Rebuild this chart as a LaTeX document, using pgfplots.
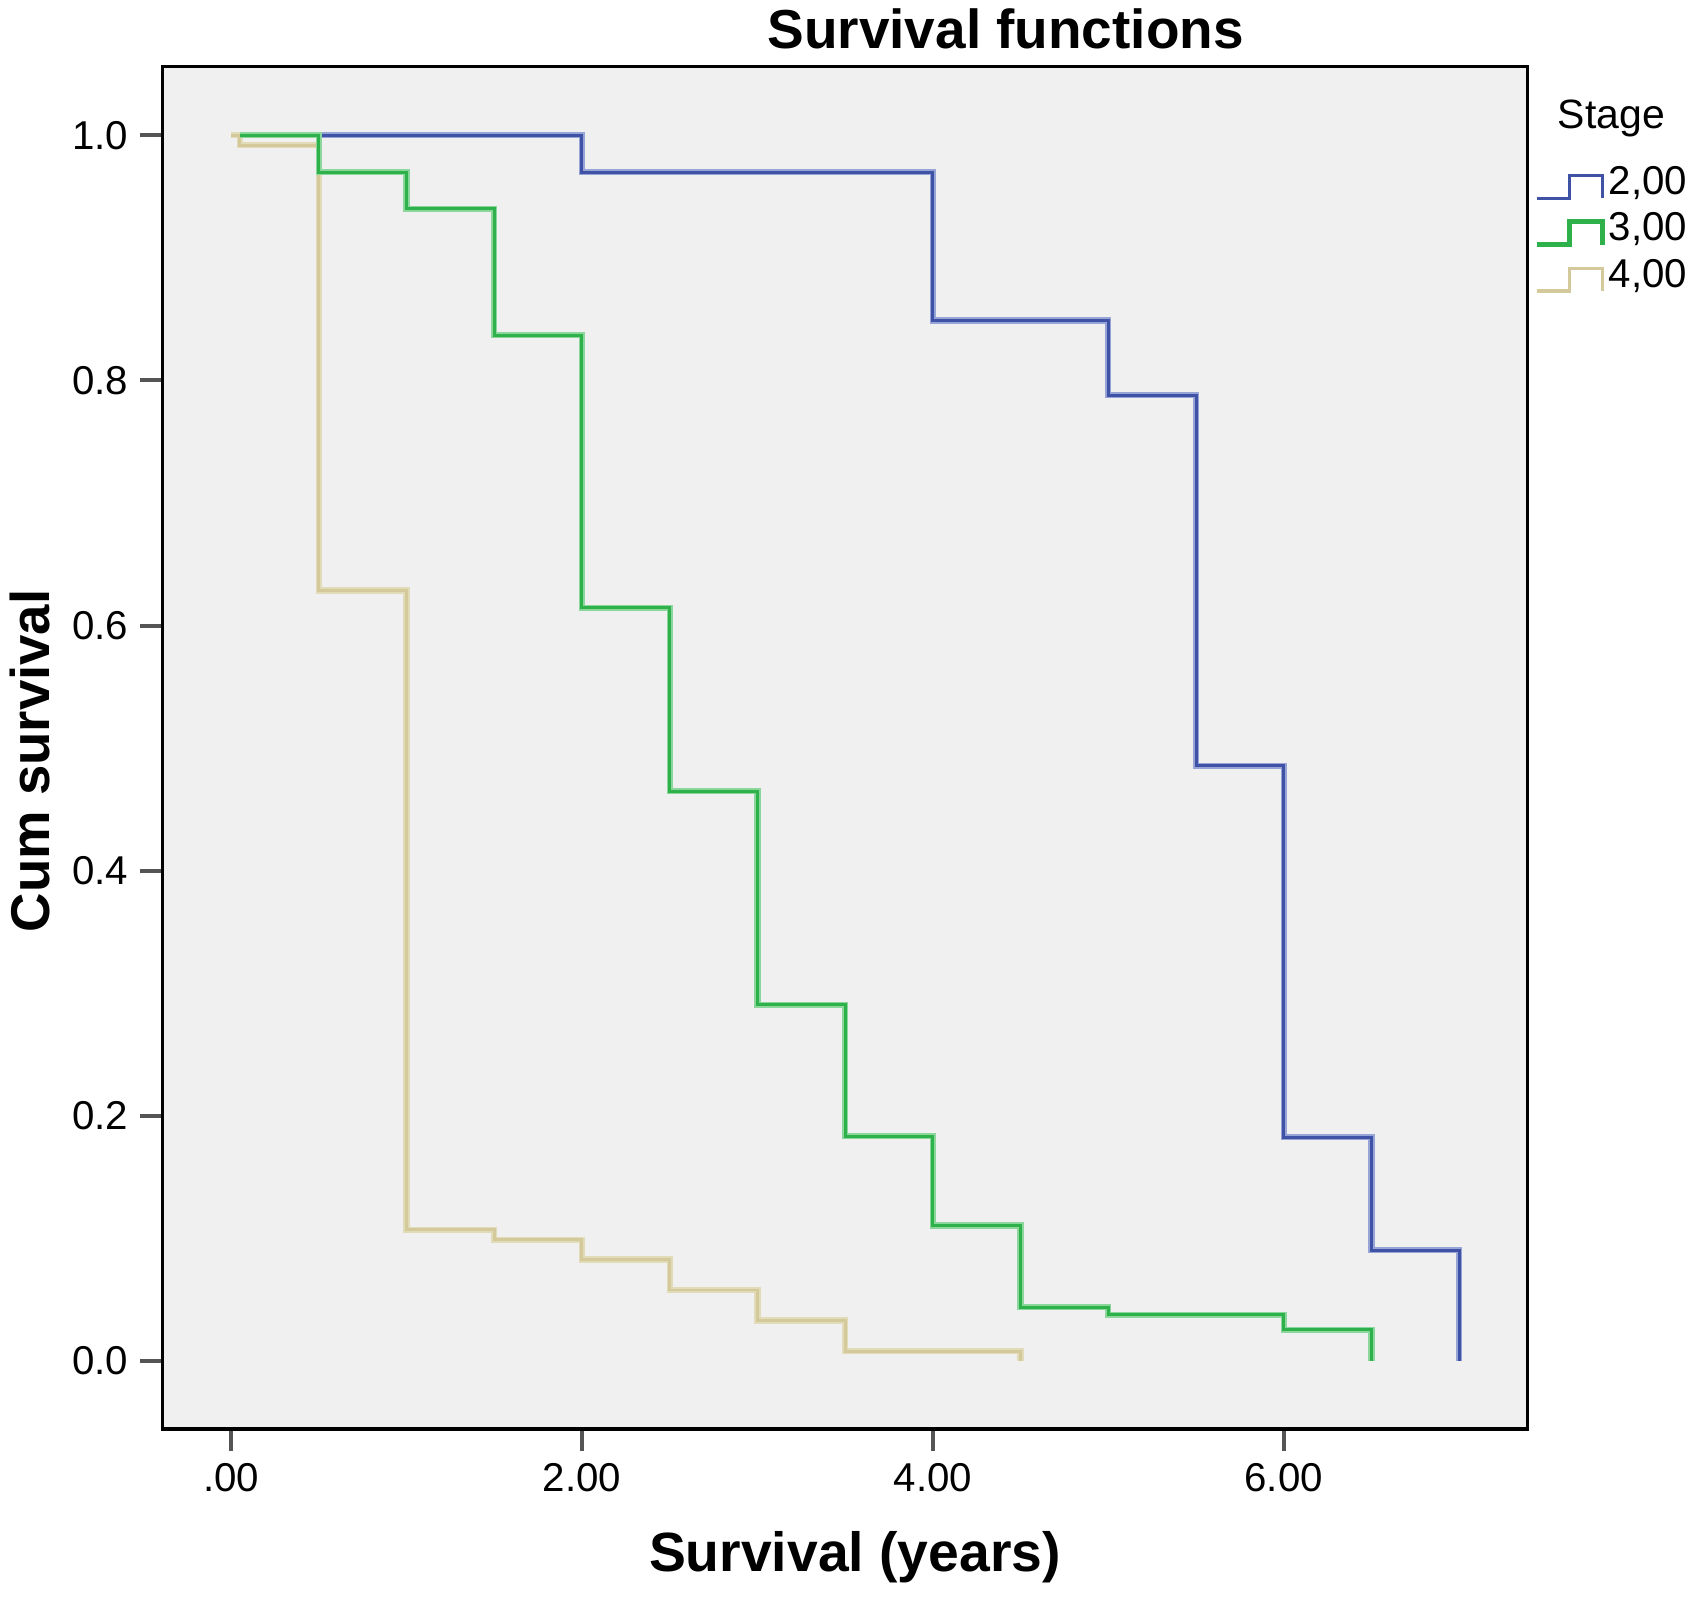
\documentclass[border=0pt]{standalone}
\usepackage{fontspec}
\setmainfont{Liberation Sans}
\usepackage{pgfplots}
\pgfplotsset{compat=1.18}
\definecolor{bg}{HTML}{F0F0F0}
\definecolor{blueC}{HTML}{3F52A5}
\definecolor{blueH}{HTML}{97A4D6}
\definecolor{greenC}{HTML}{2EB04A}
\definecolor{greenH}{HTML}{8AD69B}
\definecolor{tanC}{HTML}{D3C99A}
\definecolor{tanH}{HTML}{E2DBB8}
\definecolor{tickgray}{HTML}{555555}
\begin{document}
\begin{tikzpicture}
\begin{axis}[
  name=ax,
  scale only axis, width=388.6bp, height=387.9bp,
  xmin=-0.39, xmax=7.39, ymin=-0.0553, ymax=1.0562,
  clip=false,
  axis background/.style={fill=bg},
  axis line style={black, line width=1bp},
  tick align=outside, major tick length=6.3bp,
  tick style={color=tickgray, line width=1.1bp},
  xtick pos=left, ytick pos=left,
  xtick={0,2,4,6}, xticklabels={.00,2.00,4.00,6.00},
  ytick={0,0.2,0.4,0.6,0.8,1.0}, yticklabels={0.0,0.2,0.4,0.6,0.8,1.0},
  ticklabel style={font=\fontsize{11.5}{13}\selectfont},
  legend image code/.code={\draw[#1] (0bp,-3bp) -- (9.25bp,-3bp) -- (9.25bp,3.5bp) -- (18.5bp,3.5bp) -- (18.5bp,-3bp);},
  legend cell align=left,
  legend style={draw=none, fill=none, at={(1.0054,0.9280)}, anchor=north west,
    inner sep=0pt, outer sep=0pt, row sep=0pt,
    nodes={inner sep=0pt, font=\fontsize{11.5}{13}\selectfont, text height=8.5bp, text depth=4.7bp},
    /tikz/every odd column/.append style={column sep=1.2bp}},
]
% Stage 2,00 (blue)
\addplot[const plot, blueH, line width=1.8bp, forget plot] coordinates {(0,1)(2,0.970)(4,0.849)(5,0.788)(5.5,0.4855)(6,0.1826)(6.5,0.0904)(7,0)};
\addplot[const plot, blueC, line width=0.85bp, forget plot] coordinates {(0,1)(2,0.970)(4,0.849)(5,0.788)(5.5,0.4855)(6,0.1826)(6.5,0.0904)(7,0)};
% Stage 4,00 (tan)
\addplot[const plot, tanH, line width=1.8bp, forget plot] coordinates {(0,1)(0.05,0.992)(0.5,0.6286)(1,0.107)(1.5,0.099)(2,0.083)(2.5,0.058)(3,0.033)(3.5,0.008)(4.5,0)};
\addplot[const plot, tanC, line width=0.85bp, forget plot] coordinates {(0,1)(0.05,0.992)(0.5,0.6286)(1,0.107)(1.5,0.099)(2,0.083)(2.5,0.058)(3,0.033)(3.5,0.008)(4.5,0)};
% Stage 3,00 (green)
\addplot[const plot, greenH, line width=1.8bp, forget plot] coordinates {(0.05,1)(0.5,0.970)(1,0.940)(1.5,0.837)(2,0.6146)(2.5,0.465)(3,0.2906)(3.5,0.1835)(4,0.1106)(4.5,0.0439)(5,0.0378)(6,0.0255)(6.5,0)};
\addplot[const plot, greenC, line width=0.85bp, forget plot] coordinates {(0.05,1)(0.5,0.970)(1,0.940)(1.5,0.837)(2,0.6146)(2.5,0.465)(3,0.2906)(3.5,0.1835)(4,0.1106)(4.5,0.0439)(5,0.0378)(6,0.0255)(6.5,0)};
\addlegendimage{blueC, line width=0.9bp}
\addlegendentry{2,00}
\addlegendimage{greenC, line width=1.3bp}
\addlegendentry{3,00}
\addlegendimage{tanC, line width=0.9bp}
\addlegendentry{4,00}
\node[anchor=base west, font=\fontsize{11.7}{13}\selectfont, inner sep=0pt] at (rel axis cs:1.0216,0.9544) {Stage};
\node[anchor=base, font=\fontsize{15.7}{18}\selectfont\bfseries, inner sep=0pt] at (rel axis cs:0.6176,1) [yshift=5.2bp] {Survival functions};
\node[anchor=base, font=\fontsize{15.8}{18}\selectfont\bfseries, inner sep=0pt] at (rel axis cs:0.5072,0) [yshift=-40.7bp] {Survival (years)};
\node[anchor=base, rotate=90, font=\fontsize{15.6}{18}\selectfont\bfseries, inner sep=0pt] at (rel axis cs:0,0.4903) [yshift=32.2bp] {Cum survival};
\end{axis}
\pgfresetboundingbox
\path[use as bounding box] ([xshift=-46.3bp,yshift=-48.7bp]ax.south west) rectangle ([xshift=433.7bp,yshift=406.8bp]ax.south west);
\end{tikzpicture}
\end{document}
